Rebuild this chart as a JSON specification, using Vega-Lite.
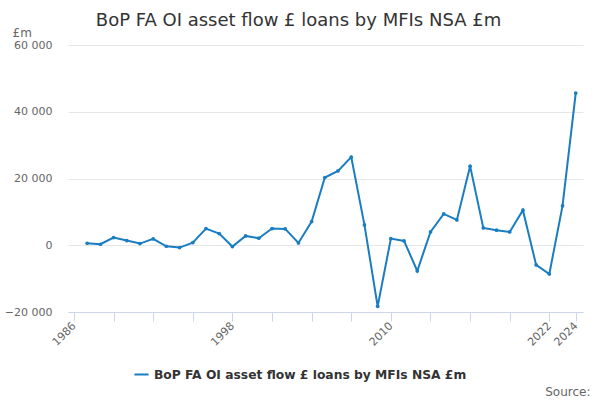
{
  "$schema": "https://vega.github.io/schema/vega-lite/v6.json",
  "width": 515,
  "height": 267,
  "autosize": "none",
  "padding": {"left": 68, "top": 45, "right": 17, "bottom": 88},
  "background": "white",
  "config": {
    "font": "DejaVu Sans",
    "view": {"stroke": null}
  },
  "title": {
    "text": "BoP FA OI asset flow £ loans by MFIs NSA £m",
    "fontSize": 18,
    "fontWeight": "normal",
    "color": "#333333",
    "anchor": "middle",
    "dx": -27,
    "offset": -4
  },
  "data": {
    "values": [
      {"year": 1987, "value": 600},
      {"year": 1988, "value": 300},
      {"year": 1989, "value": 2300},
      {"year": 1990, "value": 1400},
      {"year": 1991, "value": 500},
      {"year": 1992, "value": 1900},
      {"year": 1993, "value": -300},
      {"year": 1994, "value": -700},
      {"year": 1995, "value": 800},
      {"year": 1996, "value": 5000},
      {"year": 1997, "value": 3500},
      {"year": 1998, "value": -400},
      {"year": 1999, "value": 2800},
      {"year": 2000, "value": 2100},
      {"year": 2001, "value": 5000},
      {"year": 2002, "value": 4900},
      {"year": 2003, "value": 700},
      {"year": 2004, "value": 7100},
      {"year": 2005, "value": 20300},
      {"year": 2006, "value": 22300},
      {"year": 2007, "value": 26400},
      {"year": 2008, "value": 6100},
      {"year": 2009, "value": -18300},
      {"year": 2010, "value": 2000},
      {"year": 2011, "value": 1300},
      {"year": 2012, "value": -7700},
      {"year": 2013, "value": 4000},
      {"year": 2014, "value": 9400},
      {"year": 2015, "value": 7600},
      {"year": 2016, "value": 23700},
      {"year": 2017, "value": 5200},
      {"year": 2018, "value": 4500},
      {"year": 2019, "value": 4000},
      {"year": 2020, "value": 10500},
      {"year": 2021, "value": -5900},
      {"year": 2022, "value": -8600},
      {"year": 2023, "value": 11800},
      {"year": 2024, "value": 45600}
    ]
  },
  "transform": [
    {"calculate": "'BoP FA OI asset flow £ loans by MFIs NSA £m'", "as": "series"}
  ],
  "mark": {
    "type": "line",
    "strokeWidth": 2,
    "point": {"size": 14, "filled": true}
  },
  "encoding": {
    "x": {
      "field": "year",
      "type": "quantitative",
      "scale": {"domain": [1985.55, 2024.55], "nice": false, "zero": false},
      "axis": {
        "title": "Source:",
        "titleAlign": "right",
        "titleAnchor": null,
        "titleX": 522,
        "titleY": 83,
        "titleBaseline": "alphabetic",
        "titleFontWeight": "normal",
        "titleFontSize": 12,
        "titleColor": "#666666",
        "values": [1986, 1989, 1992, 1995, 1998, 2001, 2004, 2007, 2010, 2013, 2016, 2019, 2022, 2024],
        "labelExpr": "indexof([1986, 1998, 2010, 2022, 2024], datum.value) >= 0 ? format(datum.value, 'd') : ''",
        "grid": false,
        "domainColor": "#ccd6eb",
        "tickColor": "#ccd6eb",
        "tickSize": 9,
        "labelAngle": -45,
        "labelAlign": "right",
        "labelBaseline": "middle",
        "labelPadding": 3,
        "labelColor": "#666666",
        "labelFontSize": 11,
        "labelOverlap": false,
        "labelBound": false,
        "labelFlush": false
      }
    },
    "y": {
      "field": "value",
      "type": "quantitative",
      "scale": {"domain": [-20000, 60000], "nice": false},
      "axis": {
        "title": "£m",
        "titleAngle": 0,
        "titleAlign": "left",
        "titleBaseline": "alphabetic",
        "titleX": -56,
        "titleY": -9,
        "titleFontWeight": "normal",
        "titleFontSize": 12,
        "titleColor": "#666666",
        "values": [-20000, 0, 20000, 40000, 60000],
        "labelExpr": "replace(format(datum.value, ','), ',', ' ')",
        "domain": false,
        "ticks": false,
        "labelPadding": 16,
        "labelColor": "#666666",
        "labelFontSize": 11,
        "gridColor": "#e6e6e6"
      }
    },
    "color": {
      "field": "series",
      "type": "nominal",
      "scale": {"range": ["#1a7dc2"]},
      "legend": {
        "title": null,
        "orient": "none",
        "legendX": 65,
        "legendY": 321,
        "symbolType": "stroke",
        "symbolStrokeWidth": 2,
        "symbolSize": 200,
        "labelFontSize": 12.3,
        "labelFontWeight": "bold",
        "labelColor": "#333333",
        "labelLimit": 500
      }
    }
  }
}
